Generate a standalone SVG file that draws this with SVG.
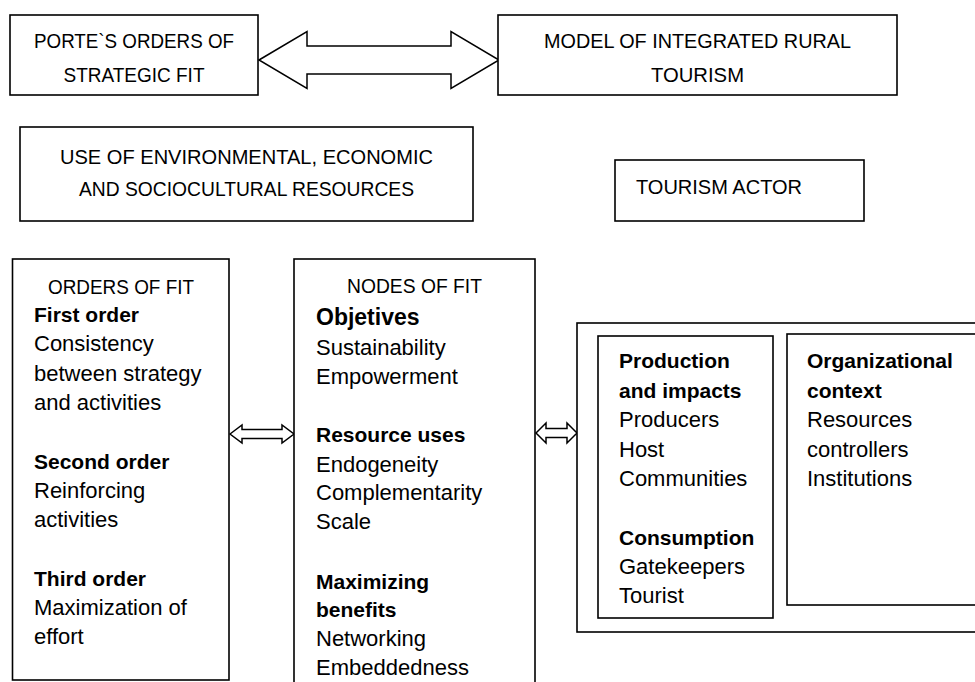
<svg xmlns="http://www.w3.org/2000/svg" width="975" height="682" viewBox="0 0 975 682">
<style>
.box{fill:#fff;stroke:#000;stroke-width:1.6}
.arr{fill:#fff;stroke:#000;stroke-width:1.5;stroke-linejoin:miter}
text{font-family:"Liberation Sans",Arial,sans-serif;fill:#000}
.cap{font-size:21px}
.t{font-size:22px}
.b{font-size:21px;font-weight:bold}
.bb{font-size:23px;font-weight:bold}
.mid{text-anchor:middle}
</style>
<rect width="975" height="682" fill="#fff"/>
<g id="connectors">
<polygon class="arr" points="259,60 307,31.5 307,46 451,46 451,31.5 499,60 451,88.5 451,74 307,74 307,88.5"/>
<polygon class="arr" points="230,434 242,425 242,429.5 282,429.5 282,425 294,434 282,443 282,438.5 242,438.5 242,443"/>
<polygon class="arr" points="536,433 546,423 546,428.5 567,428.5 567,423 577,433 567,443 567,437.5 546,437.5 546,443"/>
<polygon class="arr" points="773,421 778,413 778,417 782,417 782,413 787,421 782,429 782,425 778,425 778,429"/>
</g>
<g id="porter">
<rect class="box" x="10" y="15" width="248" height="80"/>
<text class="cap mid" x="134" y="48" textLength="200" lengthAdjust="spacingAndGlyphs">PORTE`S ORDERS OF</text>
<text class="cap mid" x="134" y="82" textLength="141" lengthAdjust="spacingAndGlyphs">STRATEGIC FIT</text>
</g>
<g id="model">
<rect class="box" x="498" y="15" width="399" height="80"/>
<text class="cap mid" x="697.5" y="48" textLength="307" lengthAdjust="spacingAndGlyphs">MODEL OF INTEGRATED RURAL</text>
<text class="cap mid" x="697.5" y="82" textLength="93" lengthAdjust="spacingAndGlyphs">TOURISM</text>
</g>
<g id="resources">
<rect class="box" x="20" y="127" width="453" height="94"/>
<text class="cap mid" x="246.5" y="164" textLength="373" lengthAdjust="spacingAndGlyphs">USE OF ENVIRONMENTAL, ECONOMIC</text>
<text class="cap mid" x="246.5" y="196" textLength="335" lengthAdjust="spacingAndGlyphs">AND SOCIOCULTURAL RESOURCES</text>
</g>
<g id="actor">
<rect class="box" x="615" y="160" width="249" height="61"/>
<text class="cap" x="636" y="194" textLength="166" lengthAdjust="spacingAndGlyphs">TOURISM ACTOR</text>
</g>
<g id="orders">
<rect class="box" x="12.5" y="259" width="216.5" height="421"/>
<text class="cap mid" x="121" y="294" textLength="146" lengthAdjust="spacingAndGlyphs">ORDERS OF FIT</text>
<text class="b" x="34" y="322">First order</text>
<text class="t" x="34" y="351">Consistency</text>
<text class="t" x="34" y="381">between strategy</text>
<text class="t" x="34" y="410">and activities</text>
<text class="b" x="34" y="469">Second order</text>
<text class="t" x="34" y="498">Reinforcing</text>
<text class="t" x="34" y="527">activities</text>
<text class="b" x="34" y="586">Third order</text>
<text class="t" x="34" y="615">Maximization of</text>
<text class="t" x="34" y="644">effort</text>
</g>
<g id="nodes">
<rect class="box" x="294" y="259" width="241" height="440"/>
<text class="cap mid" x="414.5" y="293" textLength="135" lengthAdjust="spacingAndGlyphs">NODES OF FIT</text>
<text class="bb" x="316" y="325">Objetives</text>
<text class="t" x="316" y="355">Sustainability</text>
<text class="t" x="316" y="384">Empowerment</text>
<text class="b" x="316" y="442">Resource uses</text>
<text class="t" x="316" y="472">Endogeneity</text>
<text class="t" x="316" y="500">Complementarity</text>
<text class="t" x="316" y="529">Scale</text>
<text class="b" x="316" y="589">Maximizing</text>
<text class="b" x="316" y="617">benefits</text>
<text class="t" x="316" y="646">Networking</text>
<text class="t" x="316" y="675">Embeddedness</text>
</g>
<g id="actors">
<rect class="box" x="577" y="323" width="420" height="309"/>
</g>
<g id="production">
<rect class="box" x="598" y="336" width="175" height="282"/>
<text class="b" x="619" y="368">Production</text>
<text class="b" x="619" y="398">and impacts</text>
<text class="t" x="619" y="427">Producers</text>
<text class="t" x="619" y="457">Host</text>
<text class="t" x="619" y="486">Communities</text>
<text class="b" x="619" y="545">Consumption</text>
<text class="t" x="619" y="574">Gatekeepers</text>
<text class="t" x="619" y="603">Tourist</text>
</g>
<g id="organizational">
<rect class="box" x="787" y="334" width="210" height="271"/>
<text class="b" x="807" y="368">Organizational</text>
<text class="b" x="807" y="398">context</text>
<text class="t" x="807" y="427">Resources</text>
<text class="t" x="807" y="457">controllers</text>
<text class="t" x="807" y="486">Institutions</text>
</g>
</svg>
